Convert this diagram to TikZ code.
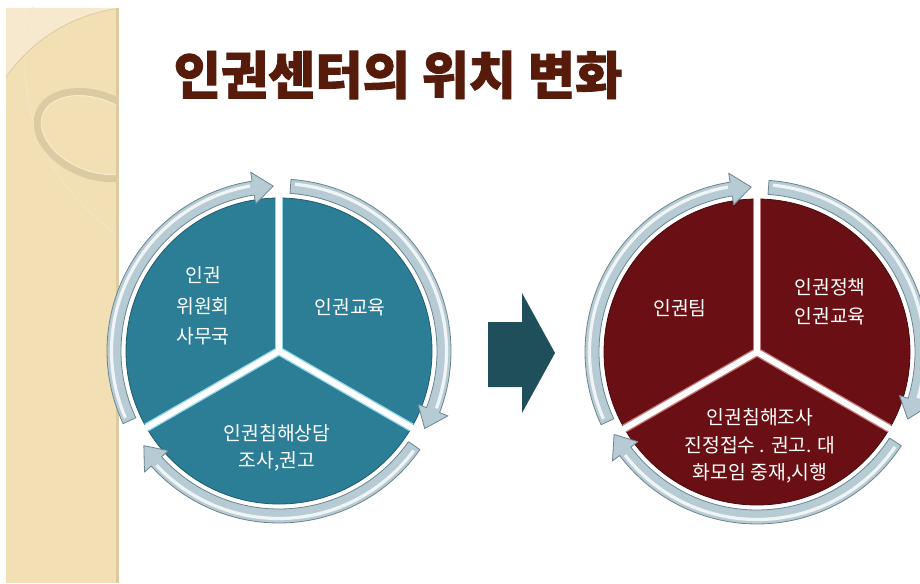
\documentclass[tikz,border=0pt]{standalone}
\usepackage{fontspec}
\newfontfamily\krfont{Noto Sans CJK KR}
\newfontfamily\krtitle{Noto Sans CJK KR}[BoldFeatures={FakeBold=1.6}]

\definecolor{sidebar}{HTML}{F2DFB3}
\definecolor{sidebarlight}{HTML}{F6E9CE}
\definecolor{sideline}{HTML}{DCCAA2}
\definecolor{titlebrown}{HTML}{561B0B}
\definecolor{slateteal}{HTML}{2C7D96}
\definecolor{tealrim}{HTML}{1F5B6D}
\definecolor{tealglow}{HTML}{8FD6EA}
\definecolor{wine}{HTML}{6A1014}
\definecolor{winerim}{HTML}{4A0A0D}
\definecolor{wineglow}{HTML}{C97878}
\definecolor{bandfill}{HTML}{B7CBD5}
\definecolor{bandedge}{HTML}{6C8591}
\definecolor{bigarrow}{HTML}{1F4F5B}

\tikzset{
  ringband/.style={fill=bandfill, draw=bandedge, line width=0.6pt, line join=round},
  ringshine/.style={draw=white, line width=2.4pt, opacity=0.8},
  slicetext/.style={text=white, align=center, inner sep=0pt},
}

% clockwise ring arrow: tail angle #1, tip angle #2
\newcommand\cyclearrow[2]{%
  \filldraw[ringband] (#1:172) arc[start angle=#1, end angle=#2+7, radius=172]
    -- ({#2+7}:181) -- (#2:165) -- ({#2+7}:149) -- ({#2+7}:158)
    arc[start angle=#2+7, end angle=#1, radius=158] -- cycle;
  \draw[ringshine] ({#1-1.5}:167.5) arc[start angle=#1-1.5, end angle=#2+8, radius=167.5];
}

\begin{document}
\begin{tikzpicture}[x=0.75pt,y=0.75pt]
\useasboundingbox (0,0) rectangle (920,583);
\fill[white] (0,0) rectangle (920,583);

% decorative side bar
\fill[sidebar] (6,0) rectangle (118,575);
\begin{scope}
  \clip (6,480) rectangle (118,575);
  \fill[sidebarlight, even odd rule] (6,480) rectangle (118,575) (140,413) circle (163);
  \draw[sideline, line width=0.6pt] (140,413) circle (163);
\end{scope}
\begin{scope}
  \clip (6,0) rectangle (118,575);
  \draw[sideline!45, line width=0.5pt] (230,520) circle (205);
  \draw[sideline, line width=5.5pt, rotate around={-22:(95,448)}] (95,448) ellipse (60 and 40);
  \draw[sidebarlight, line width=0.8pt, rotate around={-22:(95,448)}] (95,448) ellipse (56 and 36);
\end{scope}
\fill[sideline] (116,0) rectangle (118.5,575);

% title
\node[text=titlebrown, font=\krtitle\bfseries\fontsize{38.5}{44}\selectfont]
  (title) at (398,508) {인권센터의 위치 변화};

% left cycle
\begin{scope}[shift={(279,232)}]
  \filldraw[fill=slateteal, draw=tealrim, line width=0.6pt] (0,0) circle (153);
  \foreach \t in {90,-30,210} \draw[tealglow, line width=6.5pt] (0,0) -- (\t:153);
  \foreach \t in {90,-30,210} \draw[white, line width=4.5pt] (0,0) -- (\t:154);
  \cyclearrow{205}{92}
  \cyclearrow{86}{-28}
  \cyclearrow{-35}{-145}
\end{scope}

\node[slicetext, font=\krfont\fontsize{14.5}{23}\selectfont] (office) at (203,277) {인권\\위원회\\사무국};
\node[slicetext, font=\krfont\fontsize{14.5}{23}\selectfont] (educationL) at (350,276) {인권교육};
\node[slicetext, font=\krfont\fontsize{14.5}{20}\selectfont] (counsel) at (277,135) {인권침해상담\\조사,권고};

% transition arrow
\fill[bigarrow] (488,196) -- (522,196) -- (522,170) -- (555,230) -- (522,290) -- (522,261) -- (488,261) -- cycle;

% right cycle
\begin{scope}[shift={(757,231)}]
  \filldraw[fill=wine, draw=winerim, line width=0.6pt] (0,0) circle (153);
  \foreach \t in {90,-30,210} \draw[wineglow, line width=6.5pt] (0,0) -- (\t:153);
  \foreach \t in {90,-30,210} \draw[white, line width=4.5pt] (0,0) -- (\t:154);
  \cyclearrow{205}{92}
  \cyclearrow{86}{-24}
  \cyclearrow{-33}{-150}
\end{scope}

\node[slicetext, font=\krfont\fontsize{14.5}{22}\selectfont] (team) at (680,275) {인권팀};
\node[slicetext, font=\krfont\fontsize{14.5}{22}\selectfont] (policy) at (830,281) {인권정책\\인권교육};
\node[slicetext, font=\krfont\fontsize{14.5}{20.5}\selectfont] (inquiry) at (760,137) {인권침해조사\\진정접수 . 권고. 대\\화모임 중재,시행};
\end{tikzpicture}
\end{document}
